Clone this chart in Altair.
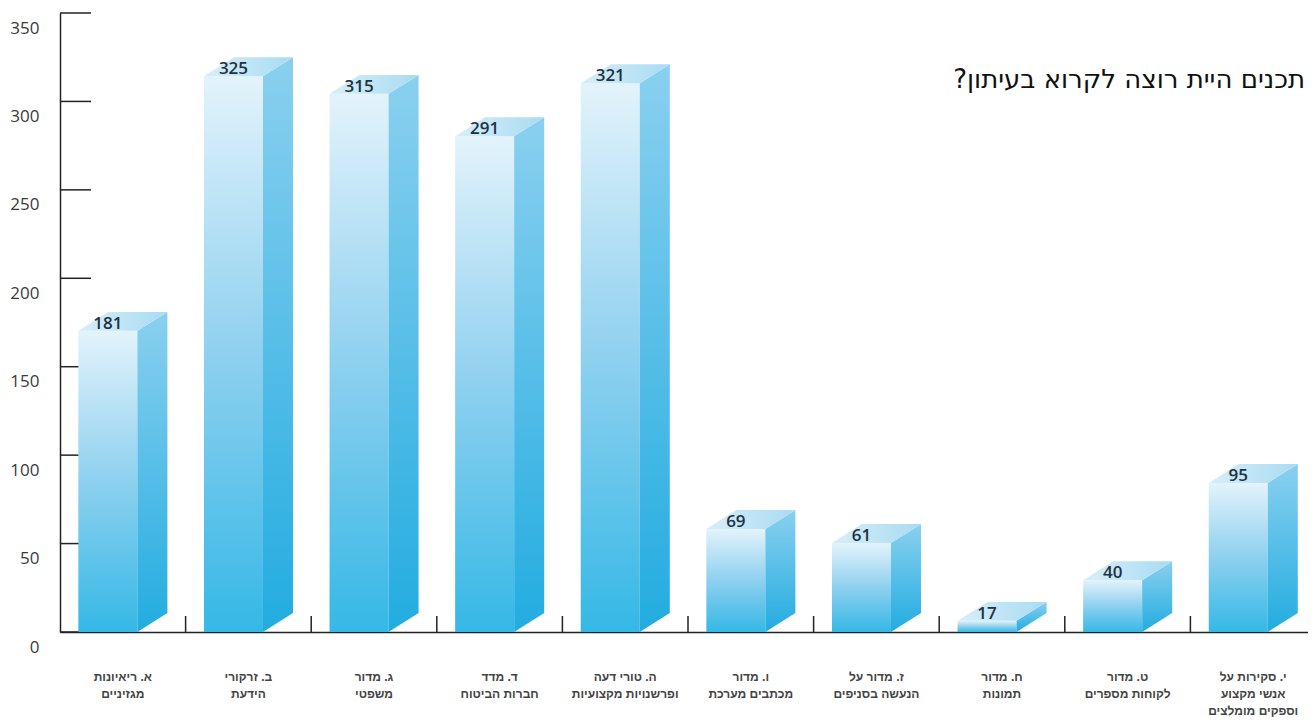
import altair as alt
import pandas as pd

# ---------------- data ----------------
categories = [
    "א. ריאיונות|מגזיניים",
    "ב. זרקורי|הידעת",
    "ג. מדור|משפטי",
    "ד. מדד|חברות הביטוח",
    "ה. טורי דעה|ופרשנויות מקצועיות",
    "ו. מדור|מכתבים מערכת",
    "ז. מדור על|הנעשה בסניפים",
    "ח. מדור|תמונות",
    "ט. מדור|לקוחות מספרים",
    "י. סקירות על|אנשי מקצוע|וספקים מומלצים",
]
values = [181, 325, 315, 291, 321, 69, 61, 17, 40, 95]
y_ticks = [0, 50, 100, 150, 200, 250, 300, 350]
title_text = "תכנים היית רוצה לקרוא בעיתון?\u200f"

# ---------------- geometry (style constants) ----------------
W, H = 1248, 619          # plot area in px
BAND_PX = 125.6           # width of one category band in px
FL, FW, D = 0.146, 0.47, 0.239   # front-left offset, front width, depth (band fractions)
DV = 10.7                 # vertical depth in data units

n = len(values)
front_rows, side_rows, top_rows, lab_rows = [], [], [], []
for i, (c, v) in enumerate(zip(categories, values)):
    xl, xr = i + FL, i + FL + FW
    front_rows.append(dict(k=i, xl=xl, xr=xr, top=v - DV, val=v, xc=(xl + xr) / 2))
    side_rows += [dict(k=i, x=xr, y=v - DV, y2=0), dict(k=i, x=xr + D, y=v, y2=DV)]
    top_rows += [
        dict(k=i, x=xl, y=v - DV, y2=v - DV),
        dict(k=i, x=xl + D, y=v, y2=v - DV),
        dict(k=i, x=xr, y=v, y2=v - DV),
        dict(k=i, x=xr + D, y=v, y2=v),
    ]
    lab_rows.append(dict(k=i, xm=i + 0.5, label=c))

front = pd.DataFrame(front_rows)
side = pd.DataFrame(side_rows)
topf = pd.DataFrame(top_rows)
labs = pd.DataFrame(lab_rows)
bounds = pd.DataFrame({"b": list(range(1, n))})
yt = pd.DataFrame({"t": y_ticks})
ttl = pd.DataFrame({"t": [title_text]})

xscale = alt.Scale(domain=[0, W / BAND_PX], nice=False, zero=False)
yscale = alt.Scale(domain=[0, 350], nice=False)

xaxis = alt.Axis(domain=True, domainColor="#222222", domainWidth=1.5, ticks=False,
                 labels=False, grid=False, title=None)
yaxis = alt.Axis(values=y_ticks, domain=True, domainColor="#222222", domainWidth=1.5,
                 ticks=False, grid=False, title=None, labelPadding=21, labelOffset=15,
                 labelFontSize=17, labelColor="#3a3a3a", labelFont="Open Sans")

front_grad = {"gradient": "linear", "x1": 0, "x2": 0, "y1": 0, "y2": 1,
              "stops": [{"offset": 0, "color": "#e3f3fb"},
                        {"offset": 0.5, "color": "#8ed0ef"},
                        {"offset": 1, "color": "#35b8e6"}]}
side_grad = {"gradient": "linear", "x1": 0, "x2": 0, "y1": 0, "y2": 1,
             "stops": [{"offset": 0, "color": "#8ad0ef"},
                       {"offset": 1, "color": "#22ace0"}]}
top_grad = {"gradient": "linear", "x1": 0, "x2": 1, "y1": 0, "y2": 0,
            "stops": [{"offset": 0, "color": "#d6eff9"},
                      {"offset": 1, "color": "#a9dbf2"}]}

base_x = alt.X("xl:Q", scale=xscale, axis=xaxis)

# band-boundary ticks along the baseline
btick = alt.Chart(bounds).mark_rule(color="#222222", strokeWidth=1.5).encode(
    x=alt.X("b:Q", scale=xscale, axis=xaxis),
    y=alt.Y("zero:Q", scale=yscale, axis=yaxis),
    y2=alt.value(H - 16),
).transform_calculate(zero="0")

# y tick marks pointing into the plot
ytick = alt.Chart(yt).mark_rule(color="#222222", strokeWidth=1.5).encode(
    y=alt.Y("t:Q", scale=yscale, axis=yaxis),
    x=alt.value(0),
    x2=alt.value(31),
)

front_bar = alt.Chart(front).mark_bar(color=front_grad).encode(
    x=base_x,
    x2="xr:Q",
    y=alt.Y("top:Q", scale=yscale, axis=yaxis),
    y2=alt.datum(0),
)

side_area = alt.Chart(side).mark_area(color=side_grad).encode(
    x=alt.X("x:Q", scale=xscale, axis=xaxis),
    y=alt.Y("y:Q", scale=yscale, axis=yaxis, stack=None),
    y2="y2:Q",
    detail="k:N",
)

top_area = alt.Chart(topf).mark_area(color=top_grad).encode(
    x=alt.X("x:Q", scale=xscale, axis=xaxis),
    y=alt.Y("y:Q", scale=yscale, axis=yaxis, stack=None),
    y2="y2:Q",
    detail="k:N",
)

val_text = alt.Chart(front).mark_text(
    font="Open Sans", fontSize=17, fontWeight=600, color="#22313f",
    baseline="middle", dy=12
).encode(
    x=alt.X("xc:Q", scale=xscale, axis=xaxis),
    y=alt.Y("val:Q", scale=yscale, axis=yaxis),
    text="val:Q",
)

cat_text = alt.Chart(labs).mark_text(
    font="Liberation Sans", fontSize=12, fontWeight="bold", color="#444444",
    baseline="top", lineBreak="|", lineHeight=17
).encode(
    x=alt.X("xm:Q", scale=xscale, axis=xaxis),
    y=alt.value(H + 40),
    text="label:N",
)

title_mark = alt.Chart(ttl).mark_text(
    font="DejaVu Sans", fontSize=26, color="#111111", align="right", baseline="middle"
).encode(
    x=alt.value(W - 3),
    y=alt.value(67),
    text="t:N",
)

chart = alt.layer(
    btick, ytick, front_bar, side_area, top_area, val_text, cat_text, title_mark
).properties(
    width=W, height=H,
    autosize=alt.AutoSizeParams(type="none"),
    padding={"left": 52, "top": 5, "right": 0, "bottom": 86},
).configure_view(stroke=None)

chart.save("out.html", embed_options={"renderer": "svg", "actions": False})
